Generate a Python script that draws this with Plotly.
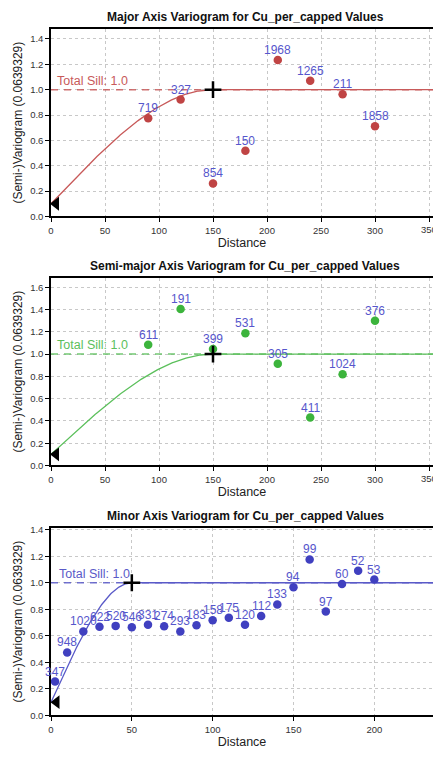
import numpy as np
import plotly.graph_objects as go

# ---------------- data ----------------
major_lag = [90, 120, 150, 180, 210, 240, 270, 300]
major_gamma = [0.774, 0.922, 0.26, 0.519, 1.234, 1.07, 0.964, 0.712]
major_pairs = [719, 327, 854, 150, 1968, 1265, 211, 1858]

semi_lag = [90, 120, 150, 180, 210, 240, 270, 300]
semi_gamma = [1.084, 1.406, 1.045, 1.188, 0.913, 0.43, 0.82, 1.30]
semi_pairs = [611, 191, 399, 531, 305, 411, 1024, 376]

minor_lag = [2.5, 10, 20, 30, 40, 50, 60, 70, 80, 90, 100, 110, 120, 130, 140,
             150, 160, 170, 180, 190, 200]
minor_gamma = [0.255, 0.475, 0.633, 0.668, 0.675, 0.665, 0.683, 0.673, 0.633,
               0.68, 0.718, 0.737, 0.683, 0.749, 0.837, 0.966, 1.176, 0.783,
               0.99, 1.09, 1.024]
minor_pairs = [347, 948, 1020, 622, 520, 546, 331, 274, 293, 183, 158, 175, 120,
               112, 133, 94, 99, 97, 60, 52, 53]

nugget = 0.1
sill = 1.0
ranges = [150, 150, 50]
nugget_marker_x = [4.6, 4.6, 3.4]
titles = ["Major Axis Variogram for Cu_per_capped Values",
          "Semi-major Axis Variogram for Cu_per_capped Values",
          "Minor Axis Variogram for Cu_per_capped Values"]
point_colors = ["#c04444", "#3cb43c", "#4040c0"]
line_colors = ["#c85a5a", "#5cc05c", "#5a5ac8"]
label_color = "#5656cc"
x_max = [353.7, 353.7, 236.3]
y_max = [1.481, 1.686, 1.415]
x_ticks = [[0, 50, 100, 150, 200, 250, 300, 350],
           [0, 50, 100, 150, 200, 250, 300, 350],
           [0, 50, 100, 150, 200]]

FONT = "Liberation Sans, Arial, sans-serif"
W, H = 433, 757
L = 51
tops = [25, 277, 530]
bottoms = [215, 467, 720]


def spherical(h, a):
    h = np.asarray(h, dtype=float)
    r = np.minimum(h / a, 1.0)
    return nugget + (sill - nugget) * (1.5 * r - 0.5 * r ** 3)


fig = go.Figure()
series = [(major_lag, major_gamma, major_pairs),
          (semi_lag, semi_gamma, semi_pairs),
          (minor_lag, minor_gamma, minor_pairs)]

annotations = []
for i, (lag, gam, pairs) in enumerate(series):
    xa = "x" if i == 0 else f"x{i+1}"
    ya = "y" if i == 0 else f"y{i+1}"
    hx = np.linspace(0, x_max[i], 400)
    fig.add_trace(go.Scatter(x=[0, x_max[i]], y=[sill, sill], mode="lines",
                             line=dict(color=line_colors[i], width=1.5, dash="7px,6px"),
                             opacity=0.85, xaxis=xa, yaxis=ya, showlegend=False))
    fig.add_trace(go.Scatter(x=hx, y=spherical(hx, ranges[i]), mode="lines",
                             line=dict(color=line_colors[i], width=1.3),
                             xaxis=xa, yaxis=ya, showlegend=False))
    fig.add_trace(go.Scatter(x=lag, y=gam, mode="markers",
                             marker=dict(color=point_colors[i], size=8.5),
                             xaxis=xa, yaxis=ya, showlegend=False, cliponaxis=False))
    for lx, ly, p in zip(lag, gam, pairs):
        annotations.append(dict(x=lx, y=ly, xref=xa, yref=ya, text=str(p),
                                showarrow=False, xanchor="center", yanchor="middle",
                                yshift=10, font=dict(color=label_color, size=12, family=FONT)))
    fig.add_trace(go.Scatter(x=[ranges[i]], y=[sill], mode="markers",
                             marker=dict(symbol="cross-thin", size=12, color="black",
                                         line=dict(color="black", width=2.5)),
                             xaxis=xa, yaxis=ya, showlegend=False))
    fig.add_trace(go.Scatter(x=[nugget_marker_x[i]], y=[nugget], mode="markers",
                             marker=dict(symbol="triangle-left", size=12, color="black"),
                             xaxis=xa, yaxis=ya, showlegend=False, cliponaxis=False))
    annotations.append(dict(x=3.5, y=sill, xref=xa, yref=ya, text="Total Sill: 1.0",
                            showarrow=False, xanchor="left", yanchor="middle", yshift=9,
                            font=dict(color=line_colors[i], size=12.5, family=FONT)))
    annotations.append(dict(x=(245 - L) / (W - L), y=1 - (tops[i] - 12) / H,
                            xref="paper", yref="paper", text=f"<b>{titles[i]}</b>",
                            showarrow=False, xanchor="center", yanchor="middle",
                            font=dict(color="#111111", size=12, family=FONT)))
    annotations.append(dict(x=(18 - L) / (W - L), y=1 - (tops[i] + bottoms[i]) / 2 / H,
                            xref="paper", yref="paper", text="(Semi-)Variogram (0.0639329)",
                            textangle=-90, showarrow=False, xanchor="center", yanchor="middle",
                            font=dict(color="#222222", size=12, family=FONT)))
    # tick label at the cut-off right edge
    if x_ticks[i][-1] == 350:
        annotations.append(dict(x=350, y=1 - (bottoms[i] + 13) / H, xref=xa, yref="paper",
                                text="350", showarrow=False, xanchor="center",
                                yanchor="middle", font=dict(size=9.5, color="#333333",
                                                            family=FONT)))

layout = dict(width=W, height=H, margin=dict(l=L, r=0, t=0, b=0),
              paper_bgcolor="white", plot_bgcolor="white",
              font=dict(family=FONT, color="#333333"),
              annotations=annotations)
for i in range(3):
    xk = "xaxis" if i == 0 else f"xaxis{i+1}"
    yk = "yaxis" if i == 0 else f"yaxis{i+1}"
    ya = "y" if i == 0 else f"y{i+1}"
    xa = "x" if i == 0 else f"x{i+1}"
    layout[xk] = dict(domain=[0, 1], anchor=ya, range=[0, x_max[i]],
                      tickmode="array", tickvals=x_ticks[i],
                      showgrid=True, gridcolor="#c8c8c8", griddash="dot", gridwidth=1,
                      showline=True, linecolor="black", linewidth=1.5, mirror=True,
                      ticks="outside", ticklen=4, tickcolor="black",
                      tickfont=dict(size=9.5, color="#333333"), zeroline=False,
                      title=dict(text="Distance", standoff=4,
                                 font=dict(size=12.5, color="#222222")))
    layout[yk] = dict(domain=[1 - bottoms[i] / H, 1 - tops[i] / H], anchor=xa,
                      range=[0, y_max[i]], dtick=0.2, tick0=0, tickformat=".1f",
                      showgrid=True, gridcolor="#c8c8c8", griddash="dot", gridwidth=1,
                      showline=True, linecolor="black", linewidth=1.5,
                      ticks="outside", ticklen=4, tickcolor="black",
                      tickfont=dict(size=9.5, color="#333333"), zeroline=False)
fig.update_layout(**layout)
fig.write_html("out.html")
